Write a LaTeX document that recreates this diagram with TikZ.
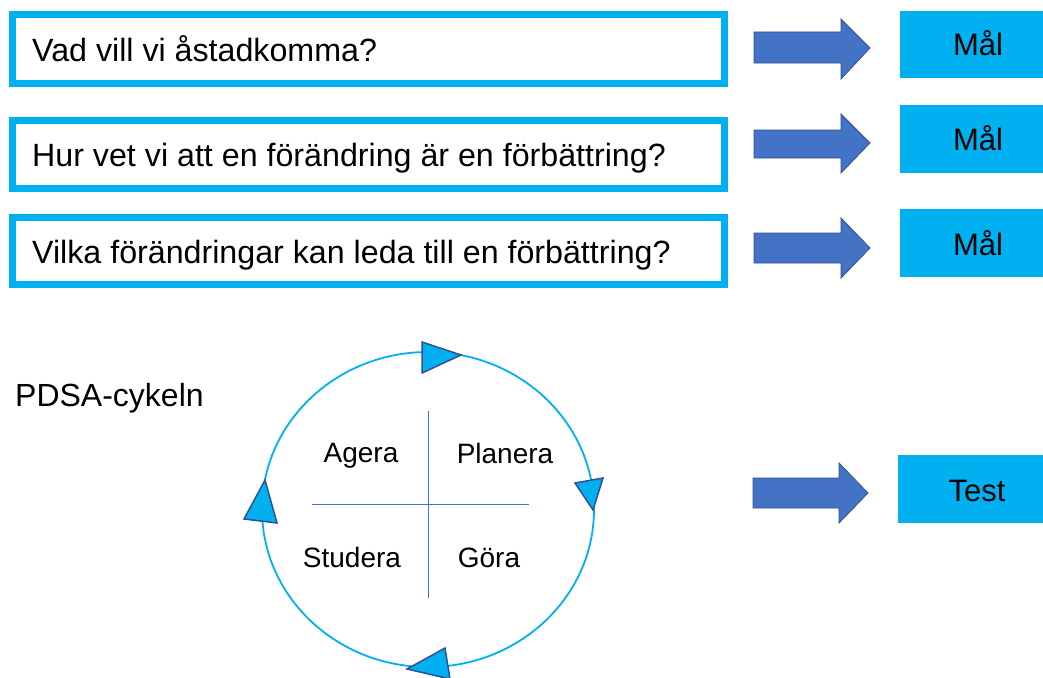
\documentclass[tikz,border=0pt]{standalone}
\usepackage{fontspec}
\setmainfont{Liberation Sans}
\definecolor{cyanb}{HTML}{00B0F0}
\definecolor{arrblue}{HTML}{4472C4}
\definecolor{arredge}{HTML}{2F528F}
\tikzset{
  qbox/.style={draw=cyanb,line width=7pt},
  qtext/.style={anchor=base west,inner sep=0pt,font=\fontsize{32.2}{38}\selectfont},
  goalbox/.style={fill=cyanb,draw=none},
  goaltext/.style={anchor=base,inner sep=0pt,font=\fontsize{31}{36}\selectfont},
  blockarrow/.style={fill=arrblue,draw=arredge,line width=0.8pt,line join=miter},
  cyctri/.style={fill=cyanb,draw=arredge,line width=1.5pt,line join=miter},
  cyctext/.style={anchor=base,inner sep=0pt,font=\fontsize{28}{34}\selectfont},
}
\begin{document}
\begin{tikzpicture}[x=1pt,y=-1pt]
\useasboundingbox (0,0) rectangle (1043,677);
% question boxes
\draw[qbox] (12.5,15) rectangle (724.5,83.5);
\draw[qbox] (12.5,120.5) rectangle (724.5,188);
\draw[qbox] (12.5,217) rectangle (724.5,284.5);
\node[qtext] (q1) at (32,61) {Vad vill vi åstadkomma?};
\node[qtext] (q2) at (32,166) {Hur vet vi att en förändring är en förbättring?};
\node[qtext] (q3) at (32,263) {Vilka förändringar kan leda till en förbättring?};
% block arrows
\draw[blockarrow] (754,32) -- (841,32) -- (841,19) -- (870,48) -- (841,79) -- (841,63) -- (754,63) -- cycle;
\draw[blockarrow] (754,130) -- (841,130) -- (841,114) -- (870,143) -- (841,173) -- (841,158) -- (754,158) -- cycle;
\draw[blockarrow] (754,233) -- (841,233) -- (841,218) -- (870,248) -- (841,278) -- (841,263) -- (754,263) -- cycle;
\draw[blockarrow] (753,478) -- (839,478) -- (839,463) -- (868,493) -- (839,523) -- (839,508) -- (753,508) -- cycle;
% goal boxes
\fill[goalbox] (900,11) rectangle (1043,78);
\fill[goalbox] (900,105) rectangle (1043,173);
\fill[goalbox] (900,209) rectangle (1043,277);
\fill[goalbox] (898,455) rectangle (1043,523);
\node[goaltext] (m1) at (978,56) {Mål};
\node[goaltext] (m2) at (978,150) {Mål};
\node[goaltext] (m3) at (978,255) {Mål};
\node[goaltext] (t) at (977,501) {Test};
% PDSA
\node[cyctext,anchor=base west,font=\fontsize{32}{38}\selectfont] (pdsa) at (15,406) {PDSA-cykeln};
\draw[cyanb,line width=1.8pt] (428,509.5) ellipse [x radius=166, y radius=157.5];
\draw[arrblue,line width=1pt] (428,411) -- (428,598);
\draw[arrblue,line width=1pt] (312,504) -- (529,504);
\node[cyctext] (agera) at (361,462) {Agera};
\node[cyctext] (planera) at (505,463) {Planera};
\node[cyctext] (studera) at (352,567) {Studera};
\node[cyctext] (gora) at (489,567) {Göra};
% cycle arrowheads
\draw[cyctri] (422,342) -- (461,355) -- (422,373) -- cycle;
\draw[cyctri] (575,483) -- (603,478) -- (593,510) -- cycle;
\draw[cyctri] (445,648) -- (407,669) -- (450,679) -- cycle;
\draw[cyctri] (244,519) -- (265,480) -- (277,523) -- cycle;
\end{tikzpicture}
\end{document}
